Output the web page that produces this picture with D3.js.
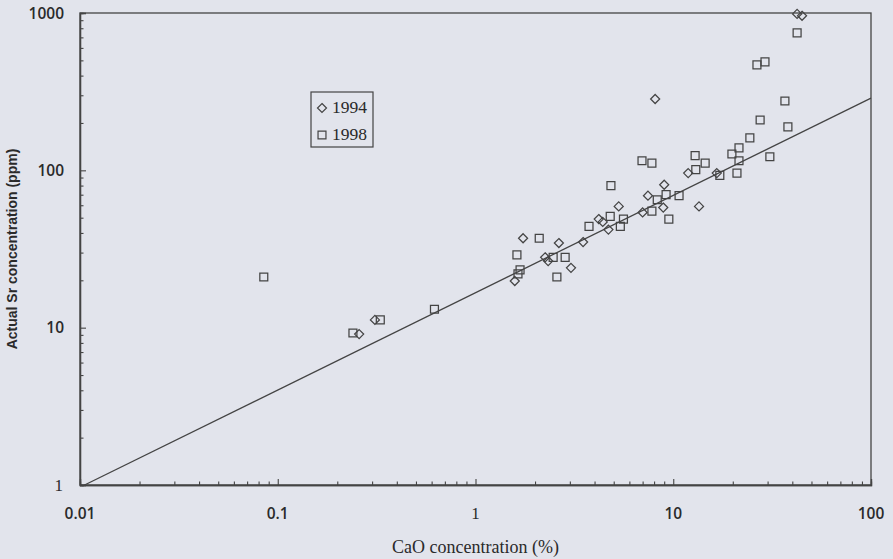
<!DOCTYPE html>
<html>
<head>
<meta charset="utf-8">
<script src="https://cdn.jsdelivr.net/npm/d3@7"></script>
<style>
  body { margin: 0; background: #e2e4ec; }
  svg { display: block; }
</style>
</head>
<body>
<svg id="chart" width="893" height="559"></svg>
<script>
// ---- data (CaO %, Sr ppm)
const cao1994 = [42.3, 44.8, 8.1, 11.9, 16.6, 9.0, 7.45, 8.9, 7.0, 13.5, 5.3, 4.7, 4.4, 4.2,
                 3.5, 2.64, 1.74, 2.25, 2.33, 3.04, 1.58, 0.31, 0.258];
const sr1994  = [987, 960, 284, 96, 96, 81, 69, 58, 54, 59, 59, 42, 47, 49,
                 35, 34.5, 37, 28, 26.5, 24, 19.8, 11.2, 9.1];

const cao1998 = [42.3, 26.5, 29.1, 36.7, 27.5, 38, 24.4, 21.5, 19.8, 21.5, 30.8, 12.9, 14.5, 13.0,
                 6.95, 7.8, 17.2, 21.0, 4.84, 9.2, 10.7, 8.3, 7.8, 9.5, 4.8, 5.6, 5.4, 3.75,
                 2.1, 1.62, 2.47, 2.84, 2.58, 1.68, 1.64, 0.62, 0.33, 0.24, 0.085];
const sr1998  = [747, 468, 489, 276, 209, 189, 161, 139, 127, 115, 122, 124, 111, 101,
                 115, 111, 93, 96, 80, 70, 69, 65, 55, 49, 51, 49, 44, 44,
                 37, 29, 28, 28, 21, 23.3, 22, 13.1, 11.2, 9.25, 21];

// regression line end points
const fitX = [0.0103, 100];
const fitY = [0.985, 288];

const xMajor = [0.01, 0.1, 1, 10, 100];
const xLabels = ["0.01", "0.1", "1", "10", "100"];
const yMajor = [1, 10, 100, 1000];
const yLabels = ["1", "10", "100", "1000"];

// ---- layout
const svg = d3.select("#chart");
const margin = { left: 80, top: 13, right: 22, bottom: 74 };
const W = +svg.attr("width"), H = +svg.attr("height");
const ink = "#444";
const textInk = "#2a2a2a";

const x = d3.scaleLog().domain([0.01, 100]).range([margin.left, W - margin.right]);
const y = d3.scaleLog().domain([1, 1000]).range([H - margin.bottom, margin.top]);

// minor ticks 2..9 in each decade
const minorTicks = (majors) => {
  const out = [];
  for (let i = 0; i < majors.length - 1; i++)
    for (let k = 2; k <= 9; k++) out.push(majors[i] * k);
  return out;
};

// frame
svg.append("rect")
  .attr("x", x(0.01)).attr("y", y(1000))
  .attr("width", x(100) - x(0.01)).attr("height", y(1) - y(1000))
  .attr("fill", "none").attr("stroke", ink).attr("stroke-width", 1.3);

//_________________ axes (ticks point inwards)
const gx = svg.append("g").attr("transform", `translate(0,${y(1)})`);
gx.call(d3.axisBottom(x).tickValues(xMajor).tickSize(-6).tickFormat(""));
gx.append("g").call(d3.axisBottom(x).tickValues(minorTicks(xMajor)).tickSize(-3.5).tickFormat(""));

const gy = svg.append("g").attr("transform", `translate(${x(0.01)},0)`);
gy.call(d3.axisLeft(y).tickValues(yMajor).tickSize(-6).tickFormat(""));
gy.append("g").call(d3.axisLeft(y).tickValues(minorTicks(yMajor)).tickSize(-3.5).tickFormat(""));

svg.selectAll(".domain").attr("stroke", ink).attr("stroke-width", 1.3);
svg.selectAll(".tick line").attr("stroke", ink).attr("stroke-width", 1.1);

// tick labels
svg.append("g").selectAll("text").data(xMajor).enter().append("text")
  .attr("x", d => x(d)).attr("y", y(1) + 34)
  .attr("text-anchor", "middle")
  .attr("font-family", (d, i) => xLabels[i] === "1" ? "Liberation Serif" : "Open Sans")
  .attr("font-weight", (d, i) => xLabels[i] === "1" ? "normal" : 600)
  .attr("font-size", (d, i) => xLabels[i] === "1" ? 17 : 15.5)
  .attr("fill", textInk)
  .text((d, i) => xLabels[i]);

svg.append("g").selectAll("text").data(yMajor).enter().append("text")
  .attr("x", d => d === 1 ? x(0.01) - 17 : x(0.01) - 16)
  .attr("y", d => y(d) + 5.5)
  .attr("text-anchor", "end")
  .attr("font-family", (d, i) => yLabels[i] === "1" ? "Liberation Serif" : "Open Sans")
  .attr("font-weight", (d, i) => yLabels[i] === "1" ? "normal" : 600)
  .attr("font-size", (d, i) => yLabels[i] === "1" ? 17 : 15.5)
  .attr("fill", textInk)
  .text((d, i) => yLabels[i]);

// axis titles
svg.append("text")
  .attr("x", (x(0.01) + x(100)) / 2).attr("y", 553)
  .attr("text-anchor", "middle")
  .attr("font-family", "Liberation Serif").attr("font-size", 18)
  .attr("fill", textInk)
  .text("CaO concentration (%)");

svg.append("text")
  .attr("transform", "translate(17,249) rotate(-90)")
  .attr("text-anchor", "middle")
  .attr("font-family", "Liberation Sans").attr("font-weight", "bold").attr("font-size", 14)
  .attr("fill", textInk)
  .text("Actual Sr concentration (ppm)");

//_________________ regression line
svg.append("path")
  .datum(fitX.map((d, i) => [d, fitY[i]]))
  .attr("d", d3.line().x(d => x(d[0])).y(d => y(d[1])))
  .attr("fill", "none").attr("stroke", ink).attr("stroke-width", 1.3);

//_________________ points
const diamond = d3.symbol().type(d3.symbolDiamond2).size(52);
const square = d3.symbol().type(d3.symbolSquare2).size(80);

svg.append("g").selectAll("path").data(cao1994).enter().append("path")
  .attr("d", diamond)
  .attr("transform", (d, i) => `translate(${x(d)},${y(sr1994[i])})`)
  .attr("fill", "none").attr("stroke", ink).attr("stroke-width", 1.25);

svg.append("g").selectAll("path").data(cao1998).enter().append("path")
  .attr("d", square)
  .attr("transform", (d, i) => `translate(${x(d)},${y(sr1998[i])})`)
  .attr("fill", "none").attr("stroke", ink).attr("stroke-width", 1.25);

//_________________ legend
const lg = svg.append("g").attr("transform", "translate(311,92)");
lg.append("rect").attr("width", 62).attr("height", 55)
  .attr("fill", "none").attr("stroke", ink).attr("stroke-width", 1.2);
lg.append("path").attr("d", diamond).attr("transform", "translate(11,16)")
  .attr("fill", "none").attr("stroke", ink).attr("stroke-width", 1.2);
lg.append("path").attr("d", square).attr("transform", "translate(11,43)")
  .attr("fill", "none").attr("stroke", ink).attr("stroke-width", 1.2);
lg.selectAll("text").data(["1994", "1998"]).enter().append("text")
  .attr("x", 21).attr("y", (d, i) => 21 + i * 27)
  .attr("font-family", "Liberation Serif").attr("font-size", 17.5)
  .attr("fill", textInk)
  .text(d => d);
</script>
</body>
</html>
